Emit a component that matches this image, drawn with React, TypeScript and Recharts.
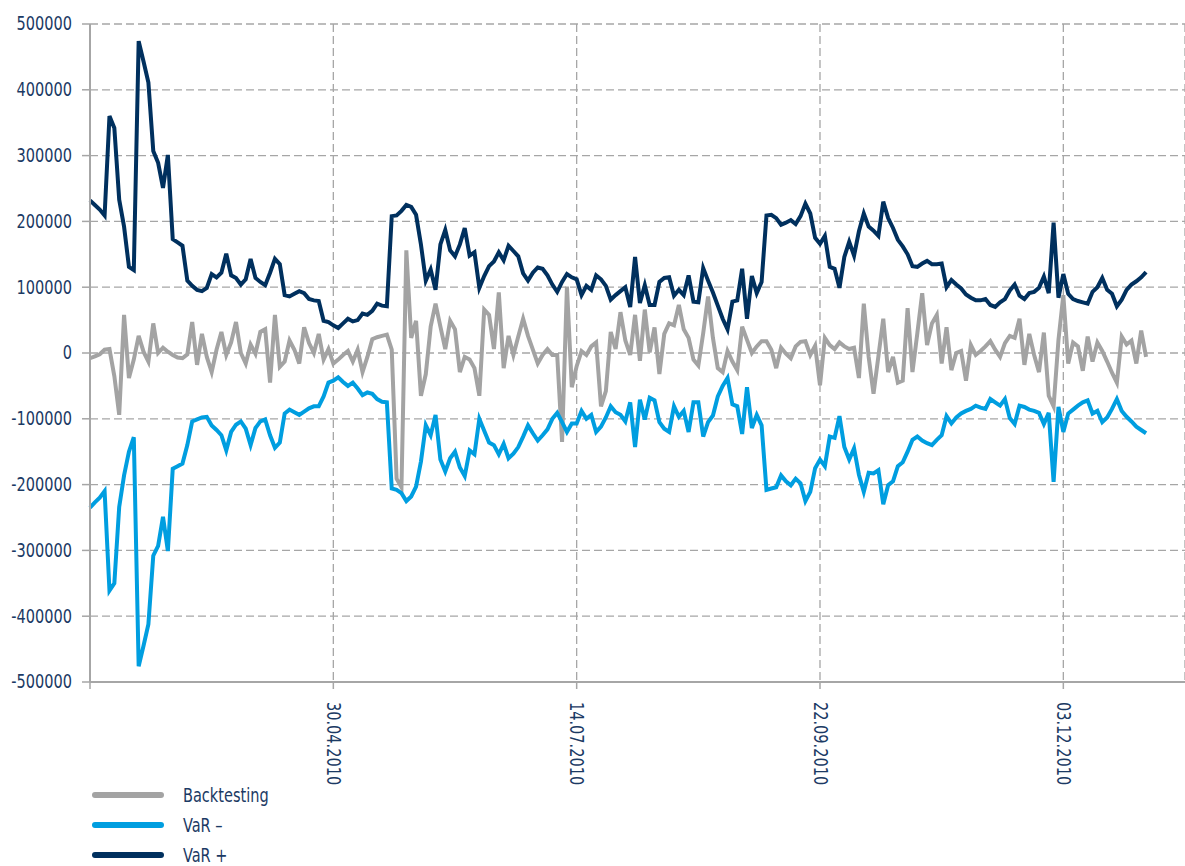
import { CartesianGrid, Line, LineChart, XAxis, YAxis } from "recharts";

// values, one per trading day (index 0 = first day shown)
const varPlus = [
  232000, 225000, 218000, 209000, 360000, 342000, 233000, 192000, 131000, 126000,
  474000, 443000, 411000, 307000, 289000, 251000, 301000, 173000, 168000, 163000,
  110000, 102000, 96000, 94000, 99000, 120000, 115000, 122000, 151000, 118000,
  114000, 104000, 112000, 143000, 114000, 108000, 103000, 122000, 143000, 135000,
  88000, 86000, 90000, 94000, 91000, 82000, 80000, 79000, 49000, 47000,
  42000, 38000, 45000, 52000, 48000, 50000, 60000, 58000, 64000, 75000,
  72000, 71000, 208000, 209000, 216000, 225000, 222000, 210000, 165000, 110000,
  127000, 96000, 165000, 187000, 156000, 147000, 165000, 190000, 148000, 153000,
  99000, 117000, 132000, 139000, 153000, 141000, 163000, 155000, 147000, 121000,
  110000, 122000, 130000, 128000, 118000, 104000, 93000, 108000, 120000, 115000,
  112000, 88000, 102000, 96000, 118000, 112000, 102000, 81000, 88000, 94000,
  100000, 70000, 146000, 76000, 103000, 73000, 73000, 108000, 114000, 115000,
  87000, 96000, 88000, 118000, 78000, 77000, 129000, 110000, 92000, 72000,
  52000, 36000, 78000, 80000, 128000, 52000, 117000, 91000, 108000, 209000,
  210000, 205000, 195000, 198000, 202000, 196000, 208000, 227000, 212000, 175000,
  166000, 178000, 131000, 128000, 99000, 146000, 169000, 148000, 185000, 212000,
  192000, 186000, 178000, 230000, 205000, 190000, 172000, 162000, 150000, 132000,
  131000, 136000, 140000, 135000, 135000, 136000, 100000, 111000, 104000, 98000,
  89000, 84000, 80000, 80000, 82000, 73000, 70000, 77000, 82000, 95000,
  104000, 87000, 82000, 91000, 93000, 99000, 116000, 91000, 198000, 84000,
  120000, 90000, 82000, 79000, 77000, 75000, 93000, 100000, 114000, 96000,
  90000, 71000, 81000, 96000, 104000, 109000, 115000, 123000,
];

const varMinus = [
  -235000, -227000, -220000, -210000, -361000, -350000, -234000, -186000, -150000, -128000,
  -476000, -445000, -412000, -308000, -293000, -249000, -301000, -176000, -172000, -168000,
  -140000, -104000, -101000, -98000, -97000, -110000, -117000, -125000, -148000, -120000,
  -109000, -104000, -115000, -140000, -114000, -104000, -101000, -125000, -144000, -136000,
  -92000, -86000, -90000, -94000, -89000, -84000, -81000, -81000, -66000, -45000,
  -42000, -37000, -44000, -50000, -45000, -54000, -64000, -60000, -62000, -70000,
  -74000, -75000, -206000, -208000, -213000, -225000, -218000, -203000, -165000, -110000,
  -125000, -94000, -162000, -180000, -160000, -150000, -174000, -187000, -148000, -154000,
  -100000, -118000, -136000, -140000, -154000, -138000, -160000, -153000, -143000, -127000,
  -110000, -122000, -133000, -125000, -116000, -100000, -91000, -105000, -120000, -107000,
  -107000, -88000, -100000, -94000, -120000, -112000, -98000, -81000, -90000, -94000,
  -104000, -75000, -143000, -71000, -101000, -68000, -72000, -105000, -115000, -120000,
  -81000, -97000, -88000, -120000, -75000, -75000, -127000, -105000, -95000, -66000,
  -50000, -38000, -78000, -81000, -123000, -52000, -114000, -94000, -110000, -208000,
  -206000, -204000, -186000, -195000, -201000, -191000, -198000, -225000, -211000, -175000,
  -162000, -172000, -127000, -129000, -96000, -143000, -162000, -145000, -185000, -211000,
  -182000, -183000, -178000, -230000, -201000, -195000, -172000, -166000, -150000, -132000,
  -127000, -133000, -137000, -140000, -132000, -125000, -96000, -107000, -98000, -92000,
  -88000, -85000, -80000, -83000, -85000, -70000, -75000, -80000, -70000, -99000,
  -108000, -80000, -82000, -86000, -88000, -91000, -108000, -91000, -196000, -82000,
  -120000, -92000, -86000, -80000, -75000, -72000, -92000, -88000, -105000, -98000,
  -85000, -70000, -88000, -97000, -104000, -112000, -117000, -122000,
];

const backtesting = [
  -8000, -5000, -2000, 5000, 6000, -35000, -94000, 58000, -38000, -10000,
  26000, 2000, -13000, 45000, 0, 8000, 2000, -3000, -7000, -8000,
  -2000, 47000, -18000, 29000, -6000, -29000, 5000, 32000, -3000, 16000,
  47000, 0, -16000, 13000, -1000, 32000, 36000, -45000, 58000, -21000,
  -13000, 19000, 5000, -16000, 39000, 15000, 0, 29000, -10000, 6000,
  -16000, -10000, -3000, 3000, -13000, 5000, -29000, -6000, 21000, 24000,
  26000, 28000, 5000, -191000, -204000, 156000, 23000, 49000, -65000, -32000,
  40000, 75000, 40000, 6000, 49000, 36000, -29000, -6000, -10000, -23000,
  -65000, 66000, 58000, 6000, 92000, -23000, 26000, -3000, 25000, 52000,
  26000, 5000, -16000, -3000, 6000, -3000, -3000, -135000, 101000, -52000,
  -20000, 3000, -3000, 10000, 16000, -81000, -58000, 32000, 6000, 62000,
  19000, -3000, 58000, -12000, 66000, 1000, 39000, -32000, 29000, 45000,
  42000, 73000, 36000, 23000, -10000, -19000, 30000, 86000, 23000, -23000,
  -29000, 3000, -13000, -26000, 40000, 20000, 0, 10000, 18000, 18000,
  5000, -23000, 8000, -1000, -8000, 10000, 17000, 18000, -3000, 11000,
  -49000, 23000, 12000, 6000, 16000, 10000, 6000, 8000, -38000, 75000,
  -6000, -62000, -5000, 52000, -29000, -6000, -45000, -42000, 68000, -29000,
  30000, 91000, 12000, 45000, 58000, -16000, 39000, -26000, 0, 3000,
  -42000, 12000, -3000, 3000, 10000, 18000, 5000, -6000, 15000, 26000,
  23000, 52000, -18000, 29000, -3000, -29000, 31000, -65000, -81000, 20000,
  88000, -16000, 16000, 10000, -27000, 25000, -13000, 16000, 3000, -13000,
  -30000, -45000, 25000, 13000, 19000, -16000, 34000, -6000,
];

// x-axis: labelled every 50 trading days
const tickIndex = [0, 50, 100, 150, 200];
const tickLabels = ["", "30.04.2010", "14.07.2010", "22.09.2010", "03.12.2010"];
const yTicks = [-500000, -400000, -300000, -200000, -100000, 0, 100000, 200000, 300000, 400000, 500000];

const seriesNames = ["Backtesting", "VaR –", "VaR +"];
const seriesColors = ["#a3a3a3", "#009ee0", "#00305e"];

const rows = backtesting.map((b, i) => ({
  i,
  backtesting: b,
  varMinus: varMinus[i],
  varPlus: varPlus[i],
}));

// no narrow font installed, so squeeze the condensed one a bit
const FONT = "'DejaVu Sans Condensed', 'DejaVu Sans', sans-serif";
const SQUEEZE = 0.85;
const TEXT = "#1b3a64";
const AXIS = "#a6a6a6";

function DateTick(props: any) {
  const { x, y, payload } = props;
  const label = tickLabels[tickIndex.indexOf(payload.value)] ?? "";
  return (
    <text
      transform={`translate(${x}, ${y}) rotate(90) scale(${SQUEEZE}, 1)`}
      textAnchor="start"
      dominantBaseline="central"
      fontFamily={FONT}
      fontSize={19}
      fill={TEXT}
    >
      {label}
    </text>
  );
}

function ValueTick(props: any) {
  const { x, y, payload } = props;
  return (
    <text
      transform={`translate(${x}, ${y}) scale(${SQUEEZE}, 1)`}
      textAnchor="end"
      dominantBaseline="central"
      fontFamily={FONT}
      fontSize={19}
      fill={TEXT}
    >
      {String(payload.value)}
    </text>
  );
}

export default function App() {
  return (
    <div style={{ position: "absolute", left: 0, top: 0, width: 1185, height: 866, background: "#fff" }}>
      <LineChart width={1185} height={866} data={rows} margin={{ top: 24, right: 0, bottom: 64, left: 0 }}>
        <CartesianGrid stroke={AXIS} strokeDasharray="8 4" strokeWidth={1.3} />
        <XAxis
          type="number"
          dataKey="i"
          domain={[0, 225]}
          ticks={tickIndex}
          interval={0}
          height={120}
          tickSize={7}
          tickMargin={13}
          axisLine={{ stroke: AXIS, strokeWidth: 2 }}
          tickLine={{ stroke: AXIS, strokeWidth: 1.5 }}
          tick={<DateTick />}
        />
        <YAxis
          type="number"
          domain={[-500000, 500000]}
          ticks={yTicks}
          interval={0}
          width={90}
          tickSize={8}
          tickMargin={10}
          axisLine={{ stroke: AXIS, strokeWidth: 2 }}
          tickLine={{ stroke: AXIS, strokeWidth: 1.5 }}
          tick={<ValueTick />}
        />
        <Line dataKey="backtesting" stroke={seriesColors[0]} strokeWidth={4} dot={false} isAnimationActive={false} />
        <Line dataKey="varMinus" stroke={seriesColors[1]} strokeWidth={4} dot={false} isAnimationActive={false} />
        <Line dataKey="varPlus" stroke={seriesColors[2]} strokeWidth={4} dot={false} isAnimationActive={false} />
      </LineChart>
      <svg width={300} height={90} style={{ position: "absolute", left: 0, top: 780 }}>
        {seriesNames.map((name, k) => (
          <g key={name}>
            <line x1={95} x2={161} y1={15 + k * 30} y2={15 + k * 30} stroke={seriesColors[k]} strokeWidth={6} strokeLinecap="round" />
            <text
              transform={`translate(183, ${16 + k * 30}) scale(${SQUEEZE}, 1)`}
              dominantBaseline="central"
              fontFamily={FONT}
              fontSize={19}
              fill={TEXT}
            >
              {name}
            </text>
          </g>
        ))}
      </svg>
    </div>
  );
}
